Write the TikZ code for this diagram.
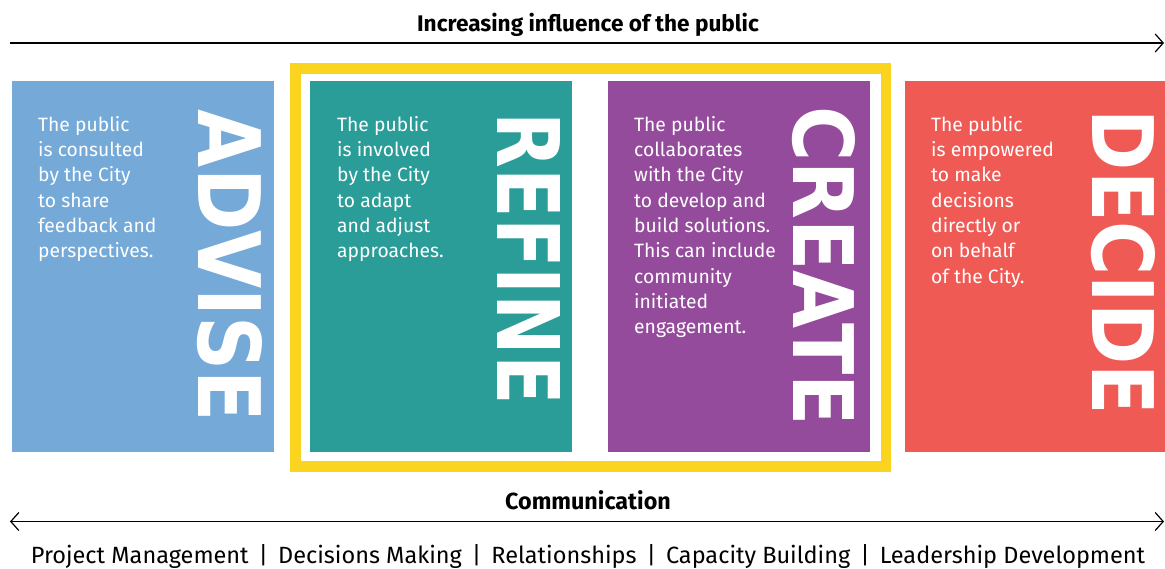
\documentclass[tikz,border=0pt]{standalone}
\usepackage{fontspec}
\setmainfont{Fira Sans}
\newfontfamily\bigfont{DejaVu Sans}
\usetikzlibrary{arrows.meta}
\definecolor{advblue}{HTML}{74A9D8}
\definecolor{refteal}{HTML}{2A9D98}
\definecolor{crepurple}{HTML}{954B9B}
\definecolor{decred}{HTML}{F05A55}
\definecolor{frameyellow}{HTML}{FAD41E}
\newcommand{\bigword}[3]{\resizebox{#1pt}{#2pt}{\bigfont\bfseries #3}}
\tikzset{
  colbox/.style={draw=none, minimum height=371pt, inner sep=0pt, anchor=north west},
  bodytext/.style={anchor=north west, inner sep=0pt, align=left, text=white,
    font=\fontsize{19.3}{25.3}\selectfont},
  vword/.style={rotate=-90, inner sep=0pt, text=white},
  headtext/.style={anchor=base, inner sep=0pt, font=\bfseries},
  scaleline/.style={line width=1.3pt},
  barb/.tip={Straight Barb[length=8pt, width=18pt, line width=1.2pt]}
}
\begin{document}
\begin{tikzpicture}[x=1pt, y=-1pt]
\useasboundingbox[fill=white] (0,0) rectangle (1165,568);
% title and top arrow
\node[headtext, font=\fontsize{22.6}{26}\selectfont\bfseries] (title) at (588,31) {Increasing influence of the public};
\coordinate (topL) at (10,43);
\coordinate (topR) at (1164,43);
\draw[scaleline, -barb] (topL) -- (topR);
% yellow frame
\draw[frameyellow, line width=10.5pt] (295.5,68.5) rectangle (886,466.5);
% boxes
\node[colbox, fill=advblue, minimum width=262pt] (advise) at (12,81) {};
\node[colbox, fill=refteal, minimum width=262pt] (refine) at (310,81) {};
\node[colbox, fill=crepurple, minimum width=262pt] (create) at (608,81) {};
\node[colbox, fill=decred, minimum width=261pt] (decide) at (905,81) {};
% big vertical words
\node[vword] (wadvise) at (230,266) {\bigword{312}{64}{ADVISE}};
\node[vword] (wrefine) at (528.5,259) {\bigword{292}{63}{REFINE}};
\node[vword] (wcreate) at (824,266) {\bigword{319}{62}{CREATE}};
\node[vword] (wdecide) at (1123.5,262.5) {\bigword{305}{63}{DECIDE}};
% body texts
\node[bodytext] (tadvise) at (38,116) {The public\\is consulted\\by the City\\to share\\feedback and\\perspectives.};
\node[bodytext] (trefine) at (337,116) {The public\\is involved\\by the City\\to adapt\\and adjust\\approaches.};
\node[bodytext] (tcreate) at (634,116) {The public\\collaborates\\with the City\\to develop and\\build solutions.\\This can include\\community\\initiated\\engagement.};
\node[bodytext] (tdecide) at (931,116) {The public\\is empowered\\to make\\decisions\\directly or\\on behalf\\of the City.};
% communication
\node[headtext, font=\fontsize{23.3}{27}\selectfont\bfseries] (comm) at (588,509.5) {Communication};
\coordinate (botL) at (10,521.5);
\coordinate (botR) at (1164,521.5);
\draw[scaleline, barb-barb] (botL) -- (botR);
\node[anchor=base, inner sep=0pt, font=\fontsize{23.5}{28}\selectfont] (skills) at (588,563)
 {Project Management\hspace{10pt}|\hspace{10pt}Decisions Making\hspace{10pt}|\hspace{10pt}Relationships\hspace{10pt}|\hspace{10pt}Capacity Building\hspace{10pt}|\hspace{10pt}Leadership Development};
\end{tikzpicture}
\end{document}
